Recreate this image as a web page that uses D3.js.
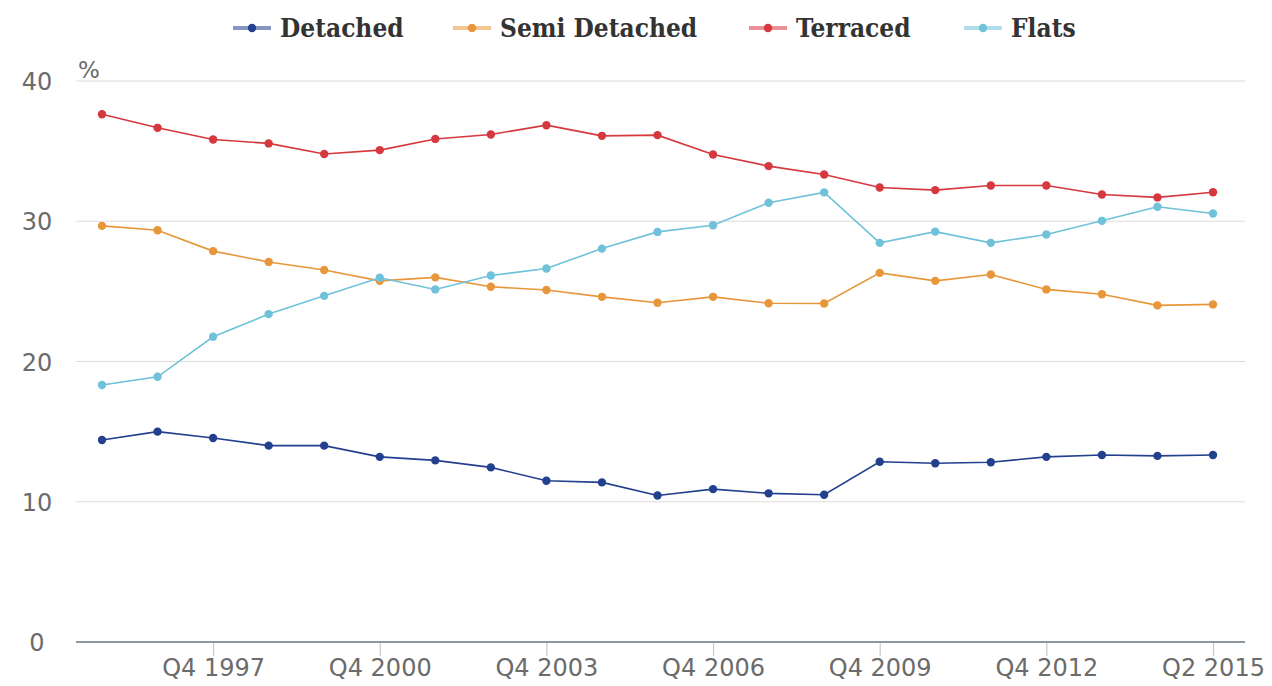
<!DOCTYPE html>
<html>
<head>
<meta charset="utf-8">
<script src="https://cdn.jsdelivr.net/npm/d3@7"></script>
<style>
  html, body { margin: 0; padding: 0; background: #fff; }
  svg { display: block; }
</style>
</head>
<body>
<svg id="chart" width="1272" height="686"></svg>
<script>
// Share of dwelling types (%), yearly observations
const categories = [
  "Q4 1995", "Q4 1996", "Q4 1997", "Q4 1998", "Q4 1999", "Q4 2000", "Q4 2001",
  "Q4 2002", "Q4 2003", "Q4 2004", "Q4 2005", "Q4 2006", "Q4 2007", "Q4 2008",
  "Q4 2009", "Q4 2010", "Q4 2011", "Q4 2012", "Q4 2013", "Q4 2014", "Q2 2015"
];
const tickLabels = ["Q4 1997", "Q4 2000", "Q4 2003", "Q4 2006", "Q4 2009", "Q4 2012", "Q2 2015"];
const yTicks = [0, 10, 20, 30, 40];

const detached = [14.4, 15.0, 14.55, 14.0, 14.0, 13.2, 12.95, 12.45, 11.5, 11.38, 10.45,
                  10.9, 10.6, 10.5, 12.85, 12.75, 12.82, 13.2, 13.33, 13.27, 13.33];
const semiDetached = [29.67, 29.36, 27.87, 27.1, 26.52, 25.75, 26.0, 25.33, 25.1, 24.61, 24.19,
                      24.61, 24.15, 24.14, 26.32, 25.75, 26.2, 25.14, 24.8, 24.0, 24.07];
const terraced = [37.63, 36.66, 35.83, 35.55, 34.8, 35.07, 35.87, 36.19, 36.85, 36.09, 36.14,
                  34.76, 33.93, 33.33, 32.41, 32.22, 32.55, 32.55, 31.91, 31.7, 32.07];
const flats = [18.32, 18.91, 21.76, 23.38, 24.68, 25.97, 25.14, 26.13, 26.63, 28.05, 29.24,
               29.72, 31.32, 32.06, 28.46, 29.26, 28.46, 29.05, 30.03, 31.03, 30.55];

const seriesNames = ["Detached", "Semi Detached", "Terraced", "Flats"];
const seriesValues = [detached, semiDetached, terraced, flats];
const seriesColors = ["#23408e", "#e8963a", "#d5383e", "#6fc2da"];

const svg = d3.select("#chart");

const plotLeft = 76, plotRight = 1245;
const x = d3.scalePoint().domain(categories).range([102, 1213]);
const y = d3.scaleLinear().domain([0, 40]).range([642, 81]);

// horizontal gridlines (excluding baseline)
svg.append("g")
  .selectAll("line")
  .data(yTicks.filter(d => d > 0))
  .join("line")
  .attr("x1", plotLeft).attr("x2", plotRight)
  .attr("y1", d => y(d)).attr("y2", d => y(d))
  .attr("stroke", "#dcdcdc").attr("stroke-width", 1.2);

// y tick labels
svg.append("g")
  .selectAll("text")
  .data(yTicks)
  .join("text")
  .attr("x", 37)
  .attr("y", d => y(d) + 9)
  .attr("text-anchor", "middle")
  .attr("font-family", "DejaVu Sans, sans-serif")
  .attr("font-size", 24)
  .attr("fill", "#6b6b6b")
  .text(d => d);

// unit label
svg.append("text")
  .attr("x", 78).attr("y", 78)
  .attr("font-family", "DejaVu Sans, sans-serif")
  .attr("font-size", 23)
  .attr("fill", "#6b6b6b")
  .text("%");

// x axis
const xAxis = d3.axisBottom(x)
  .tickValues(tickLabels)
  .tickSize(14)
  .tickPadding(3)
  .tickSizeOuter(0);

const gx = svg.append("g")
  .attr("transform", `translate(0,${y(0)})`)
  .call(xAxis);
gx.select(".domain").remove();
gx.selectAll(".tick line").attr("stroke", "#c8c8c8").attr("stroke-width", 1.2);
gx.selectAll(".tick text")
  .attr("font-family", "DejaVu Sans, sans-serif")
  .attr("font-size", 24)
  .attr("fill", "#6b6b6b")
  .attr("dy", "0.72em");

svg.append("line")
  .attr("x1", plotLeft).attr("x2", plotRight)
  .attr("y1", y(0)).attr("y2", y(0))
  .attr("stroke", "#8f969c").attr("stroke-width", 2);

// series lines + markers
const line = d3.line()
  .x((d, i) => x(categories[i]))
  .y(d => y(d));

seriesValues.forEach((vals, k) => {
  const g = svg.append("g");
  g.append("path")
    .datum(vals)
    .attr("d", line)
    .attr("fill", "none")
    .attr("stroke", seriesColors[k])
    .attr("stroke-width", 1.6);
  g.selectAll("circle")
    .data(vals)
    .join("circle")
    .attr("cx", (d, i) => x(categories[i]))
    .attr("cy", d => y(d))
    .attr("r", 4.2)
    .attr("fill", seriesColors[k]);
});

// legend
const legendX = [252, 472, 768, 983];
const legend = svg.append("g");
seriesNames.forEach((name, k) => {
  const cx = legendX[k];
  legend.append("line")
    .attr("x1", cx - 19).attr("x2", cx + 19)
    .attr("y1", 28).attr("y2", 28)
    .attr("stroke", seriesColors[k])
    .attr("stroke-opacity", 0.55)
    .attr("stroke-width", 4);
  legend.append("circle")
    .attr("cx", cx).attr("cy", 28).attr("r", 4.2)
    .attr("fill", seriesColors[k]);
  legend.append("text")
    .attr("x", cx + 28).attr("y", 37)
    .attr("font-family", "'DejaVu Serif Condensed', 'DejaVu Serif', serif")
    .attr("font-stretch", "condensed")
    .attr("font-weight", "bold")
    .attr("font-size", 26)
    .attr("fill", "#333")
    .text(name);
});
</script>
</body>
</html>
